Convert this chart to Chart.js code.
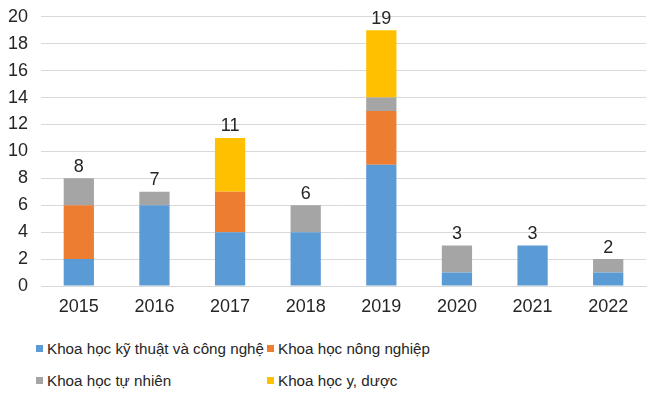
<!DOCTYPE html>
<html>
<head>
<meta charset="utf-8">
<script src="https://cdn.jsdelivr.net/npm/chart.js@4/dist/chart.umd.min.js"></script>
<style>
  body { margin: 0; background: #fff; font-family: "Liberation Sans", Arial, sans-serif; }
  #wrap { position: absolute; top: -7px; left: 0; width: 658px; height: 327px; }
  #legend { position: absolute; top: 337px; left: 36px; width: 600px; display: grid;
            grid-template-columns: 231px 300px; row-gap: 10px; font-size: 15.2px; color: #262626; }
  .item { display: flex; align-items: center; height: 22px; white-space: nowrap; }
  .box { flex: 0 0 7px; width: 7px; height: 7px; margin-right: 4px; }
</style>
</head>
<body>
<div id="wrap"><canvas id="chart"></canvas></div>
<div id="legend"></div>
<script>
// ==================== DATA ====================
const years = ['2015', '2016', '2017', '2018', '2019', '2020', '2021', '2022'];
const seriesNames = ['Khoa học kỹ thuật và công nghệ', 'Khoa học nông nghiệp', 'Khoa học tự nhiên', 'Khoa học y, dược'];
const kyThuat  = [2, 6, 4, 4, 9, 1, 3, 1];
const nongNghiep = [4, 0, 3, 0, 4, 0, 0, 0];
const tuNhien  = [2, 1, 0, 2, 1, 2, 0, 1];
const yDuoc    = [0, 0, 4, 0, 5, 0, 0, 0];
const seriesColors = ['#5B9BD5', '#ED7D31', '#A5A5A5', '#FFC000'];
const yTicks = [0, 2, 4, 6, 8, 10, 12, 14, 16, 18, 20];

const allSeries = [kyThuat, nongNghiep, tuNhien, yDuoc];
const totals = years.map((y, i) => allSeries.reduce((s, arr) => s + arr[i], 0));
const FONT = '"Liberation Sans", Arial, sans-serif';

// ==================== TOTAL LABELS ====================
const totalLabels = {
    id: 'totalLabels',
    afterDatasetsDraw(chart) {
        const ctx = chart.ctx;
        const yScale = chart.scales.y;
        const xScale = chart.scales.x;
        ctx.save();
        ctx.font = '18px ' + FONT;
        ctx.fillStyle = '#262626';
        ctx.textAlign = 'center';
        ctx.textBaseline = 'alphabetic';
        totals.forEach((t, i) => {
            const x = xScale.getPixelForValue(i);
            const y = yScale.getPixelForValue(t);
            ctx.fillText(String(t), x, y - 6.5);
        });
        ctx.restore();
    }
};

const ctx = document.getElementById('chart').getContext('2d');
new Chart(ctx, {
    type: 'bar',
    data: {
        labels: years,
        datasets: allSeries.map((arr, k) => ({
            label: seriesNames[k],
            data: arr,
            backgroundColor: seriesColors[k],
            borderWidth: 0,
            categoryPercentage: 1,
            barPercentage: 0.4
        }))
    },
    options: {
        responsive: true,
        maintainAspectRatio: false,
        animation: false,
        layout: { padding: { top: 9, right: 12, left: 0, bottom: 0 } },
        plugins: { legend: { display: false }, tooltip: { enabled: false } },
        scales: {
            x: {
                stacked: true,
                grid: { display: false, drawTicks: false },
                border: { color: '#D9D9D9', width: 1 },
                ticks: { color: '#262626', padding: 10, font: { size: 18, family: FONT } },
                afterFit(scale) { scale.height = 34; }
            },
            y: {
                stacked: true,
                min: 0,
                max: 20,
                afterBuildTicks(scale) { scale.ticks = yTicks.map(v => ({ value: v })); },
                grid: { color: '#D9D9D9', drawTicks: false },
                border: { display: false },
                ticks: { color: '#262626', padding: 13, font: { size: 18, family: FONT } },
                afterFit(scale) { scale.width = 41; }
            }
        }
    },
    plugins: [totalLabels]
});

// ==================== LEGEND ====================
const legend = document.getElementById('legend');
seriesNames.forEach((name, k) => {
    const item = document.createElement('div');
    item.className = 'item';
    item.innerHTML = `<span class="box" style="background:${seriesColors[k]}"></span><span>${name}</span>`;
    legend.appendChild(item);
});
</script>
</body>
</html>
